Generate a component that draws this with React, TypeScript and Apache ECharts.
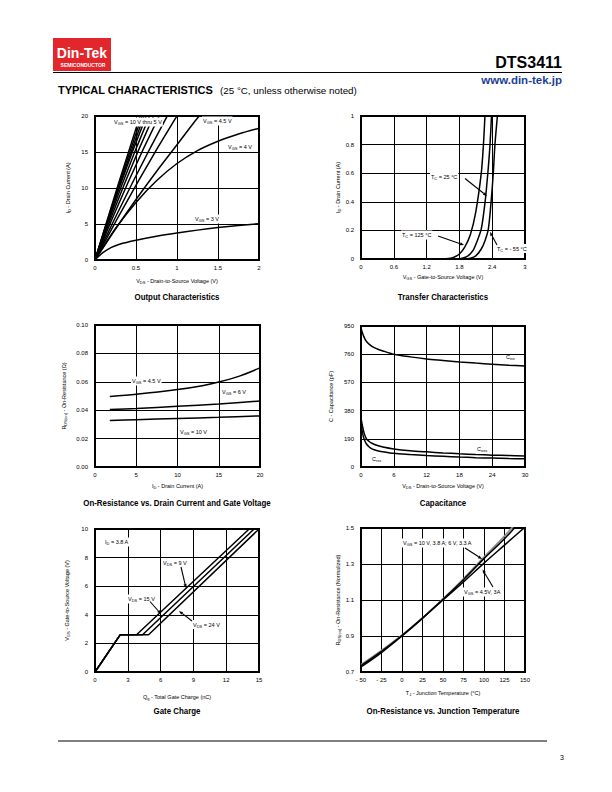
import React, { useEffect, useRef } from 'react';
import * as echarts from 'echarts';

const FONT = '"Liberation Sans", Arial, Helvetica, sans-serif';

// ---------- Output characteristics (VDS [V], ID [A]) ----------
const outVgs10 = [[0, 0], [0.28, 10.4], [0.56, 20.4]];
const outVgs9 = [[0, 0], [0.29, 10.4], [0.585, 20.4]];
const outVgs8 = [[0, 0], [0.3, 10.4], [0.61, 20.4]];
const outVgs7 = [[0, 0], [0.31, 10.5], [0.64, 20.4]];
const outVgs65 = [[0, 0], [0.33, 10.5], [0.68, 20.4]];
const outVgs6 = [[0, 0], [0.36, 10.6], [0.73, 20.4]];
const outVgs55 = [[0, 0], [0.4, 10.7], [0.8, 20.4]];
const outVgs52 = [[0, 0], [0.46, 10.8], [0.9, 20.4]];
const outVgs5 = [[0, 0], [0.53, 11.0], [1.02, 20.4]];
const outVgs45 = [[0, 0], [0.25, 4.3], [0.5, 8.4], [0.75, 12.3], [1, 16.0], [1.2, 19.0], [1.3, 20.4]];
const outVgs4 = [[0, 0], [0.1, 1.8], [0.25, 4.4], [0.5, 8.0], [0.75, 11.0], [1, 13.4], [1.25, 15.2], [1.5, 16.5], [1.75, 17.5], [2, 18.3]];
const outVgs3 = [[0, 0], [0.05, 0.55], [0.1, 1.05], [0.2, 1.75], [0.3, 2.2], [0.5, 2.75], [0.75, 3.3], [1, 3.75], [1.25, 4.15], [1.5, 4.5], [1.75, 4.8], [2, 5.05]];

// ---------- Transfer characteristics (VGS [V], ID [A]) ----------
const trans125 = [[0, 0], [1.5, 0], [1.6, 0.003], [1.7, 0.012], [1.8, 0.035], [1.9, 0.085], [2.0, 0.17], [2.1, 0.33], [2.2, 0.6], [2.24, 0.8], [2.27, 1.02]];
const trans25 = [[0, 0], [1.75, 0], [1.85, 0.005], [1.95, 0.02], [2.05, 0.06], [2.12, 0.12], [2.2, 0.21], [2.27, 0.4], [2.32, 0.6], [2.36, 0.8], [2.39, 1.02]];
const transM55 = [[0, 0], [1.9, 0], [2.0, 0.005], [2.1, 0.022], [2.2, 0.07], [2.27, 0.13], [2.33, 0.21], [2.38, 0.4], [2.42, 0.6], [2.45, 0.8], [2.5, 1.02]];

// ---------- On-resistance vs drain current (ID [A], RDS(on) [ohm]) ----------
const rdsVgs45 = [[1.8, 0.0497], [5, 0.0512], [10, 0.0545], [13, 0.0572], [15, 0.0598], [17.5, 0.064], [20, 0.0698]];
const rdsVgs6 = [[1.8, 0.0405], [5, 0.0412], [10, 0.0427], [15, 0.0444], [20, 0.0465]];
const rdsVgs10 = [[1.8, 0.0327], [5, 0.0333], [10, 0.0342], [15, 0.035], [20, 0.036]];

// ---------- Capacitance (VDS [V], C [pF]) ----------
const capCiss = [[0, 935], [0.5, 880], [1, 845], [2, 812], [3, 795], [4, 782], [6, 760], [9, 742], [12, 728], [15, 718], [18, 708], [21, 700], [24, 693], [27, 686], [30, 680]];
const capCoss = [[0, 330], [0.3, 270], [0.6, 225], [1, 190], [1.5, 172], [2, 160], [3, 145], [4, 135], [6, 122], [9, 110], [12, 102], [15, 95], [18, 89], [21, 84], [24, 80], [27, 77], [30, 74]];
const capCrss = [[0, 290], [0.3, 225], [0.6, 185], [1, 155], [1.5, 135], [2, 122], [3, 110], [4, 103], [6, 92], [9, 84], [12, 77], [15, 72], [18, 67], [21, 63], [24, 60], [27, 57], [30, 55]];

// ---------- Gate charge (Qg [nC], VGS [V]) ----------
const gateVds9 = [[0, 0], [2.3, 2.6], [3.8, 2.6], [14.1, 10]];
const gateVds15 = [[0, 0], [2.3, 2.6], [4.35, 2.6], [14.55, 10]];
const gateVds24 = [[0, 0], [2.3, 2.6], [4.9, 2.6], [15, 10]];

// ---------- On-resistance vs junction temperature ----------
const tjTemps = [-50, -25, 0, 25, 50, 75, 100, 125, 150];
const rnVgs10 = [0.735, 0.815, 0.903, 1.0, 1.104, 1.213, 1.33, 1.44, 1.565];
const rnVgs6 = [0.74, 0.82, 0.905, 1.0, 1.106, 1.218, 1.338, 1.455, 1.585];
const rnVgs45 = [0.728, 0.808, 0.9, 0.998, 1.1, 1.2, 1.305, 1.405, 1.505];

// ---------- Tick settings ----------
const outXTicks = { min: 0, max: 2, interval: 0.5 };
const outYTicks = { min: 0, max: 20, interval: 5 };
const trXTicks = { min: 0, max: 3, interval: 0.6 };
const trYTicks = { min: 0, max: 1, interval: 0.2 };
const rdsXTicks = { min: 0, max: 20, interval: 5 };
const rdsYTicks = { min: 0, max: 0.1, interval: 0.02 };
const capXTicks = { min: 0, max: 30, interval: 6 };
const capYTicks = { min: 0, max: 950, interval: 190 };
const gXTicks = { min: 0, max: 15, interval: 3 };
const gYTicks = { min: 0, max: 10, interval: 2 };
const tXTicks = { min: -50, max: 150, interval: 25 };
const tYTicks = { min: 0.7, max: 1.5, interval: 0.2 };

const richSub = {
  n: { fontSize: 5.5, fontFamily: FONT, color: '#000' },
  s: { fontSize: 4, fontFamily: FONT, color: '#000', padding: [3, 0, 0, 0] },
};

const round = (v: number, d: number) => {
  const r = Math.round(v * Math.pow(10, d)) / Math.pow(10, d);
  return String(r);
};

function xAx(gi: number, t: any, name: string, nameGap: number, fmt?: (v: number) => string) {
  return {
    type: 'value', gridIndex: gi, min: t.min, max: t.max, interval: t.interval,
    name, nameLocation: 'middle', nameGap,
    nameTextStyle: { fontSize: 5.5, color: '#000', fontFamily: FONT, rich: richSub },
    axisLine: { show: false }, axisTick: { show: false },
    axisLabel: { fontSize: 6, color: '#000', margin: 5, fontFamily: FONT, formatter: fmt || ((v: number) => round(v, 2)) },
    splitLine: { show: true, lineStyle: { color: '#000', width: 1 } },
  };
}
function yAx(gi: number, t: any, name: string, nameGap: number, fmt?: (v: number) => string) {
  return {
    type: 'value', gridIndex: gi, min: t.min, max: t.max, interval: t.interval,
    name, nameLocation: 'middle', nameGap,
    nameTextStyle: { fontSize: 5.5, color: '#000', fontFamily: FONT, rich: richSub },
    axisLine: { show: false }, axisTick: { show: false },
    axisLabel: { fontSize: 6, color: '#000', margin: 7, fontFamily: FONT, formatter: fmt || ((v: number) => round(v, 2)) },
    splitLine: { show: true, lineStyle: { color: '#000', width: 1 } },
  };
}

function ser(idx: number, data: any[], opts: any = {}) {
  const s: any = {
    type: 'line', xAxisIndex: idx, yAxisIndex: idx, data, showSymbol: false, symbol: 'none',
    smooth: opts.smooth !== undefined ? opts.smooth : 0.3, clip: true, silent: true,
    lineStyle: { color: opts.color || '#000', width: opts.width || 1.5 }, z: opts.z || 3,
  };
  return s;
}

function label(x: number, y: number, text: string, bg = false, align = 'left') {
  return {
    type: 'text', x, y, z: 50,
    style: {
      text, textAlign: align, textVerticalAlign: 'middle', fill: '#000',
      fontSize: 5.5, fontFamily: FONT, rich: richSub,
      backgroundColor: bg ? '#fff' : undefined, padding: bg ? [1, 1, 1, 1] : undefined,
    },
  };
}
function arrow(x1: number, y1: number, x2: number, y2: number) {
  const dx = x2 - x1, dy = y2 - y1;
  const L = Math.sqrt(dx * dx + dy * dy);
  const ux = dx / L, uy = dy / L;
  const hl = 4, hw = 1.6;
  const bx = x2 - ux * hl, by = y2 - uy * hl;
  return [
    { type: 'line', z: 50, shape: { x1, y1, x2: bx, y2: by }, style: { stroke: '#000', lineWidth: 1.1 } },
    { type: 'polygon', z: 50, shape: { points: [[x2, y2], [bx - uy * hw, by + ux * hw], [bx + uy * hw, by - ux * hw]] }, style: { fill: '#000' } },
  ];
}
function title(x: number, y: number, text: string) {
  return {
    type: 'text', x, y, scaleX: 0.93, z: 50,
    style: { text, textAlign: 'center', textVerticalAlign: 'middle', fill: '#000', fontSize: 8.5, fontWeight: 'bold', fontFamily: FONT },
  };
}

const sb = (main: string, s: string, rest: string) => `{n|${main}}{s|${s}}{n|${rest}}`;

const grids = [
  { left: 95, top: 116, width: 164, height: 144 },
  { left: 361, top: 116, width: 164, height: 143 },
  { left: 95, top: 325, width: 165, height: 142 },
  { left: 361, top: 326, width: 164, height: 141 },
  { left: 95, top: 529, width: 164, height: 143 },
  { left: 361, top: 528, width: 164, height: 144 },
].map((g) => ({ ...g, show: true, borderColor: '#000', borderWidth: 2, backgroundColor: 'rgba(0,0,0,0)' }));

const option: any = {
  animation: false,
  backgroundColor: '#fff',
  textStyle: { fontFamily: FONT },
  grid: grids,
  xAxis: [
    xAx(0, outXTicks, sb('V', 'DS', ' - Drain-to-Source Voltage (V)'), 17),
    xAx(1, trXTicks, sb('V', 'GS', ' - Gate-to-Source Voltage (V)'), 14, (v) => round(v, 1)),
    xAx(2, rdsXTicks, sb('I', 'D', ' - Drain Current (A)'), 15),
    xAx(3, capXTicks, sb('V', 'DS', ' - Drain-to-Source Voltage (V)'), 15),
    xAx(4, gXTicks, sb('Q', 'g', ' - Total Gate Charge (nC)'), 21),
    xAx(5, tXTicks, sb('T', 'J', ' - Junction Temperature (°C)'), 17, (v) => (v < 0 ? '- ' + Math.abs(v) : String(v))),
  ],
  yAxis: [
    yAx(0, outYTicks, sb('I', 'D', ' - Drain Current (A)'), 24),
    yAx(1, trYTicks, sb('I', 'D', ' - Drain Current (A)'), 20, (v) => round(v, 1)),
    yAx(2, rdsYTicks, sb('R', 'DS(on)', ' - On-Resistance (Ω)'), 28, (v) => v.toFixed(2)),
    yAx(3, capYTicks, 'C - Capacitance (pF)', 27),
    yAx(4, gYTicks, sb('V', 'GS', ' - Gate-to-Source Voltage (V)'), 25),
    yAx(5, tYTicks, sb('R', 'DS(on)', ' - On-Resistance (Normalized)'), 20, (v) => v.toFixed(1)),
  ],
  series: [
    ser(0, outVgs10, { smooth: 0.5 }), ser(0, outVgs9, { smooth: 0.5 }), ser(0, outVgs8, { smooth: 0.5 }),
    ser(0, outVgs7, { smooth: 0.5 }), ser(0, outVgs65, { smooth: 0.5 }), ser(0, outVgs6, { smooth: 0.5 }),
    ser(0, outVgs55, { smooth: 0.5 }), ser(0, outVgs52, { smooth: 0.5 }), ser(0, outVgs5, { smooth: 0.5 }),
    ser(0, outVgs45), ser(0, outVgs4), ser(0, outVgs3),
    ser(1, trans125, { smooth: 0.25 }), ser(1, trans25, { smooth: 0.25 }), ser(1, transM55, { smooth: 0.25 }),
    ser(2, rdsVgs45), ser(2, rdsVgs6), ser(2, rdsVgs10),
    ser(3, capCiss), ser(3, capCoss), ser(3, capCrss),
    ser(4, gateVds9, { smooth: false }), ser(4, gateVds15, { smooth: false }), ser(4, gateVds24, { smooth: false }),
    ser(5, tjTemps.map((t, i) => [t, rnVgs6[i]]), { color: '#8c8c8c', width: 1.8 }),
    ser(5, tjTemps.map((t, i) => [t, rnVgs10[i]]), { z: 4 }),
    ser(5, tjTemps.map((t, i) => [t, rnVgs45[i]]), { z: 4 }),
  ],
  graphic: [
    // header
    { type: 'rect', shape: { x: 53, y: 38, width: 58, height: 33 }, style: { fill: '#e3262b' } },
    { type: 'text', x: 82, y: 52.5, style: { text: 'Din-Tek', textAlign: 'center', textVerticalAlign: 'middle', fill: '#fff', fontSize: 14, fontWeight: 'bold', fontFamily: FONT } },
    { type: 'text', x: 83, y: 64.5, scaleX: 0.9, style: { text: 'SEMICONDUCTOR', textAlign: 'center', textVerticalAlign: 'middle', fill: '#fff', fontSize: 5.6, fontWeight: 'bold', fontFamily: FONT } },
    { type: 'text', x: 562, y: 62.5, style: { text: 'DTS3411', textAlign: 'right', textVerticalAlign: 'middle', fill: '#000', fontSize: 16, fontWeight: 'bold', fontFamily: FONT } },
    { type: 'line', shape: { x1: 53, y1: 72.5, x2: 562, y2: 72.5 }, style: { stroke: '#000', lineWidth: 1 } },
    { type: 'text', x: 562, y: 80, style: { text: 'www.din-tek.jp', textAlign: 'right', textVerticalAlign: 'middle', fill: '#1c3f95', fontSize: 11.5, fontWeight: 'bold', fontFamily: FONT } },
    { type: 'text', x: 58, y: 90, scaleX: 1.1, style: { text: 'TYPICAL CHARACTERISTICS', textAlign: 'left', textVerticalAlign: 'middle', fill: '#000', fontSize: 10, fontWeight: 'bold', fontFamily: FONT } },
    { type: 'text', x: 220, y: 90, style: { text: '(25 °C, unless otherwise noted)', textAlign: 'left', textVerticalAlign: 'middle', fill: '#000', fontSize: 9.8, fontFamily: FONT } },
    // footer
    { type: 'line', shape: { x1: 58, y1: 741, x2: 547, y2: 741 }, style: { stroke: '#000', lineWidth: 1 } },
    { type: 'text', x: 564, y: 757, style: { text: '3', textAlign: 'right', textVerticalAlign: 'middle', fill: '#000', fontSize: 7, fontFamily: FONT } },
    // titles
    title(177, 297, 'Output Characteristics'),
    title(443, 297, 'Transfer Characteristics'),
    title(177, 503, 'On-Resistance vs. Drain Current and Gate Voltage'),
    title(443, 503, 'Capacitance'),
    title(177, 711, 'Gate Charge'),
    title(443, 711, 'On-Resistance vs. Junction Temperature'),
    // chart 1 labels
    label(113, 122, sb('V', 'GS', ' = 10 V thru 5 V'), true),
    label(202, 121, sb('V', 'GS', ' = 4.5 V'), true),
    label(227, 146.5, sb('V', 'GS', ' = 4 V'), true),
    label(194, 219, sb('V', 'GS', ' = 3 V'), true),
    // chart 2 labels
    label(430, 177, sb('T', 'C', ' = 25 °C'), true),
    ...arrow(465, 178.5, 487, 196),
    label(401, 235, sb('T', 'C', ' = 125 °C'), true),
    ...arrow(438, 236, 464, 245),
    label(496, 248.5, sb('T', 'C', ' = - 55 °C'), true),
    ...arrow(497, 245, 490, 232),
    // chart 3 labels
    label(131, 381, sb('V', 'GS', ' = 4.5 V'), true),
    label(221, 392, sb('V', 'GS', ' = 6 V'), true),
    label(179, 432, sb('V', 'GS', ' = 10 V'), true),
    // chart 4 labels
    label(506, 357, sb('C', 'iss', '')),
    label(477, 449, sb('C', 'oss', '')),
    label(372, 459, sb('C', 'rss', '')),
    // chart 5 labels
    label(104, 542, sb('I', 'D', ' = 3.8 A'), true),
    label(162, 563, sb('V', 'DS', ' = 9 V'), true),
    ...arrow(181, 567, 186, 588),
    label(127, 599, sb('V', 'DS', ' = 15 V'), true),
    ...arrow(150, 601.5, 161, 614),
    label(192, 624.5, sb('V', 'DS', ' = 24 V'), true),
    ...arrow(192, 621, 179, 611),
    // chart 6 labels
    label(402, 543, sb('V', 'GS', ' = 10 V, 3.8 A; 6 V, 3.3 A'), true),
    ...arrow(465, 548, 482, 559),
    label(463, 592, sb('V', 'GS', ' = 4.5V, 3A'), true),
    ...arrow(493, 587, 482.5, 569.5),
  ],
};

export default function App() {
  const ref = useRef<HTMLDivElement>(null);
  useEffect(() => {
    if (!ref.current) return;
    const chart = echarts.init(ref.current, null, { renderer: 'svg' });
    chart.setOption(option);
    return () => chart.dispose();
  }, []);
  return (
    <div
      ref={ref}
      style={{ position: 'absolute', left: 0, top: 0, width: 612, height: 792, background: '#fff' }}
    />
  );
}
